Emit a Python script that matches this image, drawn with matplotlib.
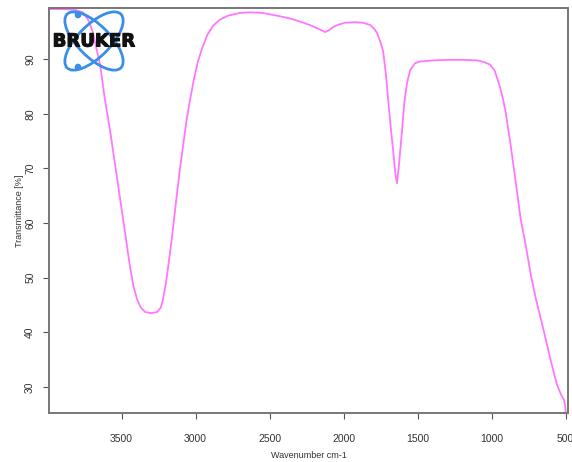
import numpy as np
import matplotlib
matplotlib.use("Agg")
import matplotlib.pyplot as plt
import matplotlib.patheffects as pe
from matplotlib.patches import Ellipse, Circle

# spectrum (wavenumber cm-1, transmittance %)
wavenumber = [3990, 3900, 3820, 3760, 3720, 3692, 3670, 3645, 3612, 3578,
              3545, 3510, 3475, 3443, 3420, 3395, 3370, 3340, 3300, 3260,
              3235, 3220, 3200, 3180, 3159, 3140, 3125, 3105, 3080, 3060,
              3037, 3010, 2985, 2956, 2920, 2880, 2834, 2780, 2700, 2630,
              2550, 2450, 2350, 2294, 2230, 2170, 2125, 2100, 2071, 2040,
              1990, 1930, 1869, 1820, 1790, 1774, 1755, 1733, 1715, 1699,
              1683, 1666, 1650, 1639, 1628, 1615, 1605, 1590, 1571, 1550,
              1517, 1480, 1395, 1300, 1200, 1100, 1050, 1010, 979, 950,
              930, 909, 875, 841, 805, 767, 735, 700, 650, 605,
              560, 530, 511, 503, 500]
transmittance = [99.2, 99.2, 99.1, 98.6, 97.0, 94.8, 92.0, 89.0, 82.6, 77.0,
                 71.0, 64.5, 58.0, 52.0, 48.5, 46.0, 44.5, 43.7, 43.5, 43.7,
                 44.5, 46.0, 49.0, 53.0, 57.5, 62.0, 65.5, 70.0, 75.0, 79.0,
                 82.6, 86.5, 89.5, 92.0, 94.5, 96.2, 97.3, 98.0, 98.5, 98.6,
                 98.5, 98.0, 97.4, 96.9, 96.3, 95.6, 95.0, 95.3, 95.9, 96.3,
                 96.7, 96.8, 96.7, 96.3, 95.5, 94.8, 93.5, 91.5, 87.5, 82.6,
                 78.0, 73.4, 69.0, 67.3, 70.0, 74.0, 77.0, 82.0, 85.7, 88.0,
                 89.3, 89.6, 89.8, 89.9, 89.9, 89.8, 89.5, 89.0, 87.9, 85.5,
                 83.5, 80.9, 75.0, 68.3, 61.0, 55.5, 50.5, 46.0, 40.5, 35.3,
                 30.5, 28.5, 27.6, 26.5, 25.5]

xticks = [3500, 3000, 2500, 2000, 1500, 1000, 500]
yticks = [30, 40, 50, 60, 70, 80, 90]

plt.rcParams['font.family'] = ['Liberation Sans', 'DejaVu Sans']

fig = plt.figure(figsize=(5.72, 4.62), dpi=100)
ax = fig.add_axes([49 / 572, 1 - 413 / 462, 519 / 572, 405 / 462])

ax.plot(wavenumber, transmittance, color='#ff77ff', lw=1.3)
ax.set_xlim(3990, 484)
ax.set_ylim(25.2, 99.4)

ax.set_xticks(xticks)
ax.set_yticks(yticks)
ax.tick_params(direction='out', length=4, width=0.8, colors='#555555',
               labelsize=7.5, labelcolor='#333333')
ax.tick_params(axis='x', pad=11)
ax.tick_params(axis='y', pad=6)
for lab in ax.get_yticklabels():
    lab.set_rotation(90)
    lab.set_va('center')
for s in ax.spines.values():
    s.set_color('#777777')
    s.set_linewidth(1.4)

ax.set_xlabel('Wavenumber cm-1', fontsize=6.5, color='#333333', labelpad=5)
ax.set_ylabel('Transmittance [%]', fontsize=6.5, color='#333333', labelpad=1)

# Bruker logo overlay in pixel space
ov = fig.add_axes([0, 0, 1, 1], zorder=5)
ov.set_xlim(0, 572)
ov.set_ylim(462, 0)
ov.axis('off')
blue = '#3a8ee8'
for ang in (45, -45):
    ov.add_patch(Ellipse((94, 41), 76, 32, angle=ang, fill=False,
                         ec=blue, lw=2.0))
ov.add_patch(Circle((78, 15), 2.6, color=blue))
ov.add_patch(Circle((78, 67), 2.6, color=blue))
ov.text(93.5, 41.5, 'BRUKER', fontsize=13, fontweight='bold', color='#111111',
        ha='center', va='center', family='DejaVu Sans',
        path_effects=[pe.withStroke(linewidth=0.8, foreground='#111111')])

fig.savefig('out.png', dpi=100)
